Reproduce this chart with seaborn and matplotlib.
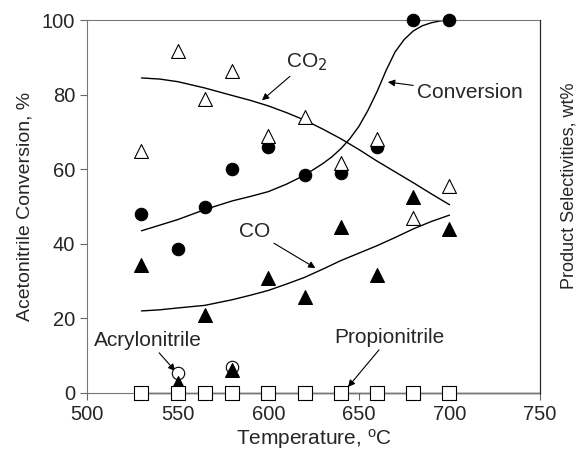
import matplotlib
matplotlib.use("Agg")
import matplotlib.pyplot as plt
import seaborn as sns

sns.set_style("ticks")
plt.rcParams["font.family"] = ["Liberation Sans", "DejaVu Sans"]

# measured points
temps = [530, 550, 565, 580, 600, 620, 640, 660, 680, 700]
conversion = [48, 38.7, 50, 60, 66, 58.5, 59, 66, 100, 100]
co2_sel = [65, 91.7, 78.8, 86.3, 69, 74, 61.6, 68, 47, 55.4]
co_sel = [34.3, 2.7, 21, 6.2, 30.8, 25.7, 44.6, 31.6, 52.6, 44]
propio_sel = [0, 0, 0, 0, 0, 0, 0, 0, 0, 0]
acryl_temps = [550, 580]
acryl_sel = [5.3, 7]

# fitted trend curves
conv_fit_t = [530, 540, 550, 565, 580, 590, 600, 610, 620, 630, 635, 640, 645,
              650, 655, 660, 665, 670, 675, 680, 685, 690, 695, 700]
conv_fit = [43.5, 45, 46.5, 49.2, 51.5, 52.7, 54, 56, 58.4, 61.5, 63.3, 65.5, 68.2,
            71.5, 75.8, 80.8, 86.5, 91.5, 94.8, 97.1, 98.5, 99.3, 99.8, 100]
fit_t = [530, 540, 550, 565, 580, 590, 600, 610, 620, 630, 640, 650, 660, 670, 680, 690, 700]
co2_fit = [84.5, 84.2, 83.5, 81.8, 79.8, 78.5, 77, 75.2, 73.2, 70.8, 68.2, 65.3,
           62.2, 59.3, 56.4, 53.4, 50.5]
co_fit = [22, 22.3, 22.8, 23.5, 25, 26.2, 27.5, 29.2, 31, 33.2, 35.5, 37.5,
          39.5, 41.7, 44, 46, 47.7]

fig = plt.figure(figsize=(5.77, 4.58), dpi=100)
ax = fig.add_axes([0.151, 0.142, 0.785, 0.814])

for t, y in [(conv_fit_t, conv_fit), (fit_t, co2_fit), (fit_t, co_fit)]:
    sns.lineplot(x=t, y=y, ax=ax, color="black", linewidth=1.0, sort=False, zorder=2)

ax.plot([530, 750], [0, 0], color="black", linewidth=1.0, zorder=2, clip_on=False)

mk = dict(edgecolor="black", linewidth=0.8, clip_on=False, legend=False)
sns.scatterplot(x=temps, y=conversion, ax=ax, marker="o", s=80, color="black", zorder=3, **mk)
sns.scatterplot(x=temps, y=co2_sel, ax=ax, marker="^", s=100, color="white", zorder=4, **mk)
sns.scatterplot(x=acryl_temps, y=acryl_sel, ax=ax, marker="o", s=80, color="white", zorder=4, **mk)
sns.scatterplot(x=temps, y=co_sel, ax=ax, marker="^", s=100, color="black", zorder=5, **mk)
sns.scatterplot(x=temps, y=propio_sel, ax=ax, marker="s", s=88, color="white", zorder=6, **mk)

ax.set_xlim(500, 750)
ax.set_ylim(0, 100)
ax.set_xticks([500, 550, 600, 650, 700, 750])
ax.set_yticks([0, 20, 40, 60, 80, 100])
ax.tick_params(labelsize=14.5, direction="out", length=5, color="#666666")
ax.set_xlabel("Temperature, $\\mathregular{^oC}$", fontsize=15, labelpad=2)
ax.set_ylabel("Acetonitrile Conversion, %", fontsize=14, labelpad=6)
for side in ["left", "top", "bottom"]:
    ax.spines[side].set_color("#777777")
ax.spines["right"].set_color("black")

ax2 = ax.twinx()
ax2.set_yticks([])
ax2.set_ylabel("Product Selectivities, wt%", fontsize=13)
ax2.yaxis.set_label_coords(1.045, 0.555)
for side in ["left", "top", "bottom"]:
    ax2.spines[side].set_visible(False)

arrow = dict(arrowstyle="-|>", color="black", lw=0.8, mutation_scale=10, shrinkA=0, shrinkB=0)
ax.annotate("CO$_2$", xy=(596.5, 78.5), xytext=(621, 88.7), fontsize=15,
            ha="center", va="center", arrowprops=arrow)
ax.annotate("Conversion", xy=(666, 83.4), xytext=(711, 80.5), fontsize=15,
            ha="center", va="center", arrowprops=arrow)
ax.annotate("CO", xy=(626, 33.5), xytext=(592.7, 43.2), fontsize=15,
            ha="center", va="center", arrowprops=arrow)
ax.annotate("Acrylonitrile", xy=(548.6, 5.9), xytext=(533.5, 14.2), fontsize=15,
            ha="center", va="center", arrowprops=arrow)
ax.annotate("Propionitrile", xy=(644, 1.6), xytext=(667, 15), fontsize=15,
            ha="center", va="center", arrowprops=arrow)

fig.savefig("out.png", dpi=100)
